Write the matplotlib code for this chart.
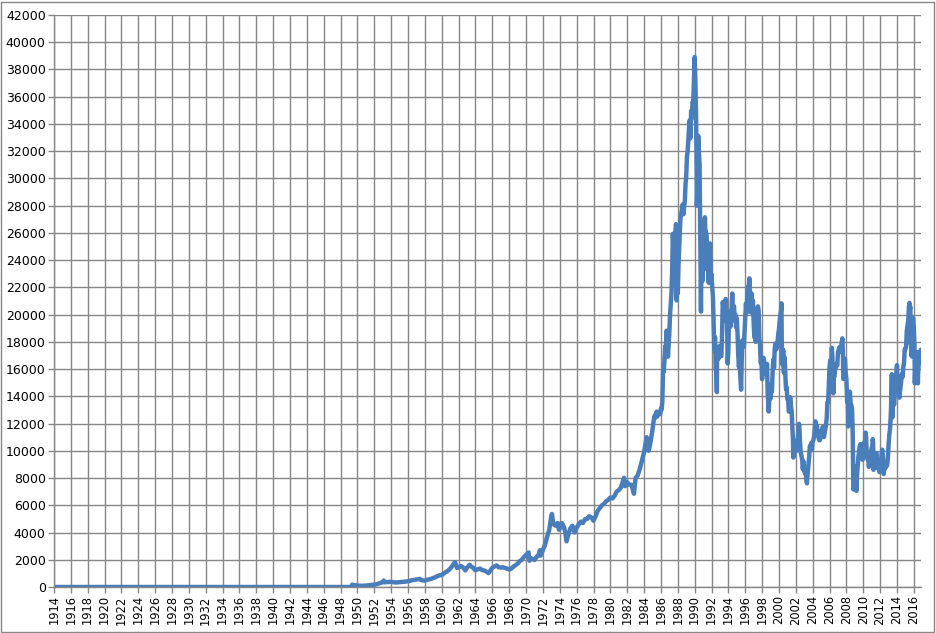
import matplotlib
matplotlib.use("Agg")
import matplotlib.pyplot as plt
from matplotlib.patches import Rectangle

# Nikkei 225
# before the index existed: flat at zero
pre_dates = [1914.0, 1949.35]
pre_values = [0, 0]

# 1949 - 1984, roughly quarterly
early_dates = [
    1949.37, 1949.5, 1949.75, 1950.0,
    1950.25, 1950.5, 1950.55, 1950.75, 1951.0,
    1951.25, 1951.5, 1951.75, 1952.0,
    1952.25, 1952.5, 1952.75, 1953.0,
    1953.12, 1953.2, 1953.5, 1953.75, 1954.0,
    1954.25, 1954.5, 1954.75, 1955.0,
    1955.25, 1955.5, 1955.75, 1956.0,
    1956.25, 1956.5, 1956.75, 1957.0,
    1957.25, 1957.4, 1957.55, 1957.75, 1958.0,
    1958.25, 1958.5, 1958.75, 1959.0,
    1959.25, 1959.5, 1959.75, 1960.0,
    1960.25, 1960.5, 1960.75, 1961.0,
    1961.25, 1961.55, 1961.65, 1961.8, 1962.0,
    1962.25, 1962.5, 1962.8, 1963.0,
    1963.3, 1963.5, 1963.75, 1964.0,
    1964.25, 1964.55, 1964.75, 1965.0,
    1965.25, 1965.55, 1965.75, 1966.0,
    1966.25, 1966.5, 1966.75, 1967.0,
    1967.25, 1967.5, 1967.75, 1968.0,
    1968.25, 1968.5, 1968.75, 1969.0,
    1969.25, 1969.5, 1969.75, 1970.0,
    1970.3, 1970.4, 1970.65, 1971.0,
    1971.25, 1971.5, 1971.65, 1971.72, 1972.0,
    1972.25, 1972.5, 1972.75, 1973.0,
    1973.07, 1973.25, 1973.5, 1973.75, 1973.9, 1974.0,
    1974.25, 1974.5, 1974.65, 1974.8, 1975.0,
    1975.25, 1975.5, 1975.75, 1976.0,
    1976.25, 1976.5, 1976.75, 1977.0,
    1977.25, 1977.5, 1977.75, 1978.0,
    1978.25, 1978.5, 1978.75, 1979.0,
    1979.25, 1979.5, 1979.75, 1980.0,
    1980.25, 1980.5, 1980.75, 1981.0,
    1981.25, 1981.62, 1981.75, 1982.0,
    1982.25, 1982.5, 1982.8, 1983.0,
    1983.25, 1983.5, 1983.75, 1984.0,
    1984.3, 1984.55, 1984.75, 1985.0,
]
early_values = [
    176, 140, 120, 109,
    100, 95, 85, 100, 101,
    120, 135, 160, 166,
    200, 250, 310, 362,
    474, 340, 360, 380, 377,
    350, 330, 340, 356,
    370, 380, 400, 425,
    460, 500, 520, 549,
    570, 595, 520, 480, 474,
    530, 560, 600, 666,
    720, 800, 860, 874,
    1000, 1100, 1200, 1356,
    1550, 1829, 1700, 1400, 1432,
    1550, 1450, 1216, 1420,
    1634, 1500, 1400, 1225,
    1300, 1350, 1250, 1216,
    1150, 1020, 1200, 1417,
    1500, 1588, 1450, 1430,
    1450, 1400, 1350, 1283,
    1350, 1500, 1600, 1715,
    1900, 2000, 2200, 2358,
    2534, 1929, 2100, 1987,
    2200, 2400, 2700, 2300, 2714,
    3100, 3700, 4200, 5207,
    5359, 4600, 4500, 4700, 4200, 4306,
    4700, 4400, 4000, 3355, 3817,
    4300, 4500, 4000, 4358,
    4600, 4800, 4700, 4990,
    5000, 5200, 5100, 4865,
    5200, 5600, 5800, 6001,
    6100, 6300, 6400, 6569,
    6500, 6700, 7000, 7116,
    7300, 8019, 7400, 7681,
    7500, 7500, 6849, 8016,
    8200, 8700, 9300, 9893,
    11000, 10000, 10600, 11542,
]

# 1985 - 2016, month-end levels
monthly_start = 1985
monthly_values = [
    11992, 12321, 12580, 12426, 12758, 12882, 12536, 12761, 12700, 12800, 12700, 13113,
    13024, 13641, 15860, 15825, 16670, 17654, 17620, 18820, 17853, 16911, 17852, 18701,
    20048, 20767, 21567, 23274, 25929, 24176, 24488, 26029, 26011, 22765, 22687, 21564,
    23622, 24902, 26260, 27256, 27417, 27769, 28093, 27366, 27924, 28330, 29579, 30159,
    31581, 31986, 32838, 33713, 34267, 32949, 34954, 34431, 35636, 35549, 37269, 38916,
    37189, 34591, 29980, 29584, 33131, 31940, 31035, 25978, 20984, 25194, 22454, 23849,
    23293, 26409, 26292, 26111, 25790, 23291, 24121, 22336, 23916, 25222, 22687, 22984,
    22023, 21339, 19346, 17391, 18348, 15952, 15910, 17555, 17399, 16767, 17684, 16925,
    17024, 16953, 18591, 20919, 20552, 19590, 20380, 21027, 20106, 19703, 16408, 17417,
    20229, 19997, 19112, 19725, 20974, 20644, 20449, 20629, 19564, 19990, 19076, 19723,
    18650, 17054, 16140, 16807, 15437, 14517, 16678, 18117, 17913, 17655, 18744, 19868,
    20813, 20125, 21407, 22041, 21956, 22530, 20693, 20167, 21556, 20467, 21020, 19361,
    18330, 18557, 18003, 19151, 20068, 20605, 20331, 18229, 17888, 16459, 16636, 15259,
    16628, 16831, 16527, 15641, 15671, 15830, 16379, 14108, 13406, 13564, 14883, 13842,
    14499, 14368, 15837, 16701, 16112, 17530, 17862, 17437, 17605, 17942, 18558, 18934,
    19540, 19960, 20337, 17974, 16332, 17411, 15727, 16861, 15747, 14539, 14649, 13786,
    13843, 12884, 12999, 13934, 13262, 12969, 11861, 10713, 9775, 10367, 10697, 10543,
    9998, 10588, 11025, 11493, 11764, 10622, 9877, 9619, 9383, 8640, 9216, 8579,
    8340, 8363, 7973, 7831, 8425, 9083, 9563, 10344, 10219, 10560, 10101, 10677,
    10784, 11042, 11715, 11762, 11236, 11858, 11326, 11082, 10824, 10771, 10899, 11489,
    11388, 11740, 11669, 11009, 11277, 11584, 11900, 12414, 13574, 13607, 14872, 16111,
    16650, 16205, 17059, 16906, 15467, 15505, 15457, 16141, 16128, 16399, 16274, 17226,
    17383, 17604, 17288, 17400, 17876, 18138, 17249, 16569, 16786, 16738, 15681, 15308,
    13592, 13603, 12526, 13850, 14339, 13481, 13377, 13073, 11260, 8577, 8512, 8860,
    7994, 7568, 8110, 8828, 9523, 9958, 10357, 10493, 10133, 10035, 9346, 10546,
    10198, 10126, 11090, 11057, 9769, 9383, 9537, 8824, 9369, 9202, 9937, 10229,
    10238, 10624, 9755, 9849, 9694, 9816, 9833, 8955, 8700, 8988, 8435, 8455,
    8803, 9723, 10084, 9521, 8543, 9007, 8695, 8840, 8870, 8928, 9446, 10395,
    11139, 11559, 12398, 13861, 13775, 13677, 13668, 13389, 14456, 14328, 15662, 16291,
    14915, 14841, 14828, 14304, 14632, 15162, 15621, 15425, 16174, 16414, 17460, 17451,
    17674, 18798, 19207, 19520, 20563, 20236, 20585, 18890, 17388, 19083, 19747, 19034,
    17518, 16027, 16759, 16666, 17235, 15576, 16569, 16887, 16450, 17425,
]

# intra-month highs and lows that stick out of the monthly line
spike_dates = [
    1987.79, 1987.81, 1987.87, 1990.26, 1990.75, 1991.22, 1992.63, 1993.69,
    1994.46, 1995.51, 1996.49, 1998.78, 2000.29, 2001.71, 2002.38, 2003.32,
    2004.32, 2006.27, 2006.45, 2007.52, 2007.63, 2008.21, 2008.82, 2009.19,
    2010.27, 2011.13, 2011.21, 2012.43, 2013.39, 2013.45, 2014.29, 2015.48,
    2015.65, 2015.74, 2016.12, 2016.48, 2016.85,
]
spike_values = [
    26646, 21910, 21036, 28002, 20222, 27147, 14309, 21148,
    21552, 14485, 22666, 12880, 20833, 9504, 11980, 7608,
    12164, 17563, 14219, 18262, 15273, 11787, 7163, 7055,
    11339, 10857, 8605, 8295, 15627, 12445, 13910, 20868,
    17806, 16930, 14952, 14952, 17100,
]

monthly_dates = [monthly_start + (i + 1) / 12.0 for i in range(len(monthly_values))]

points = list(zip(early_dates, early_values)) + list(zip(monthly_dates, monthly_values)) \
    + list(zip(spike_dates, spike_values))
points.sort()
dates = pre_dates + [p[0] for p in points]
values = pre_values + [p[1] for p in points]

year_ticks = list(range(1914, 2017, 2))
value_ticks = list(range(0, 42001, 2000))

grid_col = "#868686"
line_col = "#4a7ebb"

fig = plt.figure(figsize=(9.36, 6.33), dpi=100)
ax = fig.add_axes([54 / 936, 46 / 633, (921 - 54) / 936, (587 - 15) / 633])

ax.plot(dates, values, color=line_col, linewidth=3.2, solid_joinstyle="round")

ax.set_xlim(1914, 2016.85)
ax.set_ylim(0, 42000)
ax.set_xticks(year_ticks)
ax.set_xticklabels([str(y) for y in year_ticks], rotation=90, fontsize=8.3)
ax.set_yticks(value_ticks)
ax.set_yticklabels([str(v) for v in value_ticks], fontsize=9)

ax.grid(True, color=grid_col, linewidth=1)
ax.set_axisbelow(True)
for side in ["top", "right"]:
    ax.spines[side].set_visible(False)
for side in ["left", "bottom"]:
    ax.spines[side].set_color(grid_col)
    ax.spines[side].set_linewidth(1)
ax.tick_params(axis="both", color=grid_col, length=4, width=1, pad=2)

# chart area border
fig.patches.append(Rectangle((0.001, 0.0015), 0.997, 0.996, transform=fig.transFigure,
                             fill=False, edgecolor=grid_col, linewidth=1))

fig.savefig("out.png", dpi=100)
